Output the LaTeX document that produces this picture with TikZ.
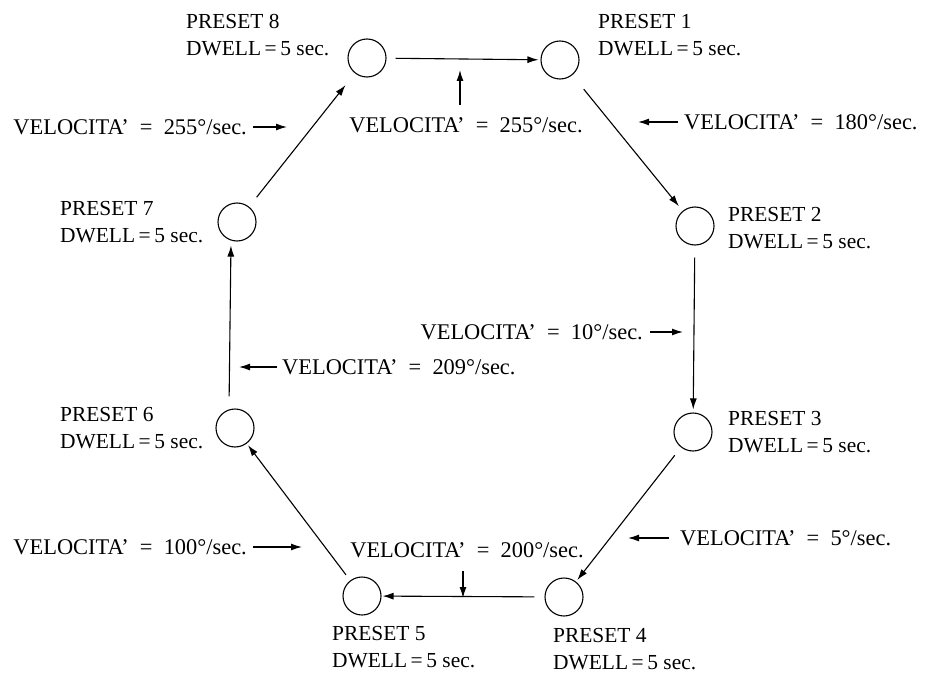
\documentclass[tikz,border=0pt]{standalone}
\usepackage{fontspec}
\setmainfont{Liberation Serif}
\usetikzlibrary{arrows.meta}
\tikzset{
  circ/.style={circle,draw,line width=1.1bp,minimum size=38bp,inner sep=0pt},
  flow/.style={-{Latex[length=11bp,width=7bp]},line width=1.1bp},
  ptr/.style={-{Latex[length=11bp,width=7bp]},line width=1.3bp},
  plbl/.style={font=\fontsize{21.5}{27}\selectfont,align=left,inner sep=0pt},
  vlbl/.style={font=\fontsize{22.5}{27}\selectfont,inner xsep=6bp,inner ysep=0bp},
}
\newcommand\dwl{DWELL\,=\,5 sec.}
\newcommand\vel[1]{VELOCITA’\enspace=\enspace#1°/sec.}
\begin{document}
\begin{tikzpicture}[x=1bp,y=-1bp]
\useasboundingbox (0,0) rectangle (927,675);
% preset circles
\node[circ] (P8) at (367,58) {};
\node[circ] (P1) at (560,60) {};
\node[circ] (P2) at (695,226) {};
\node[circ] (P3) at (693,432) {};
\node[circ] (P4) at (564,597) {};
\node[circ] (P5) at (362,596) {};
\node[circ] (P6) at (235,428) {};
\node[circ] (P7) at (237,222) {};
% preset labels
\node[plbl,anchor=west] (L8) at (186,35) {PRESET 8\\\dwl};
\node[plbl,anchor=west] (L1) at (598,35) {PRESET 1\\\dwl};
\node[plbl,anchor=west] (L2) at (728,228) {PRESET 2\\\dwl};
\node[plbl,anchor=west] (L3) at (728,432) {PRESET 3\\\dwl};
\node[plbl,anchor=west] (L4) at (553,649) {PRESET 4\\\dwl};
\node[plbl,anchor=west] (L5) at (332,647) {PRESET 5\\\dwl};
\node[plbl,anchor=west] (L6) at (60,428) {PRESET 6\\\dwl};
\node[plbl,anchor=west] (L7) at (60,222) {PRESET 7\\\dwl};
% main transitions
\draw[flow,shorten <=9bp,shorten >=2bp] (P8) -- (P1);
\draw[flow,shorten <=18bp,shorten >=6bp] (P1) -- (P2);
\draw[flow,shorten <=12bp,shorten >=3bp] (P2) -- (P3);
\draw[flow,shorten <=10bp,shorten >=2bp] (P3) -- (P4);
\draw[flow,shorten <=10bp,shorten >=1bp] (P4) -- (P5);
\draw[flow,shorten <=7bp,shorten >=2bp] (P5) -- (P6);
\draw[flow,shorten <=12bp,shorten >=4bp] ([xshift=-6bp]P6.north) -- ([xshift=-6bp]P7.south);
\draw[flow,shorten <=12bp,shorten >=15bp] (P7) -- (P8);
% velocity labels
\node[vlbl,anchor=center,inner ysep=12bp] (V1) at (466,125) {\vel{255}};
\coordinate (T1) at (460,70);
\draw[ptr] (V1.north -| T1) -- (T1);
\node[vlbl,anchor=east] (V2) at (253,127) {\vel{255}};
\coordinate (T2) at (287,127);
\draw[ptr] (V2.east) -- (T2);
\node[vlbl,anchor=west] (V3) at (678,122) {\vel{180}};
\coordinate (T3) at (638,122);
\draw[ptr] (V3.west) -- (T3);
\node[vlbl,anchor=east,inner xsep=7bp] (V4) at (650,332) {\vel{10}};
\coordinate (T4) at (683,332);
\draw[ptr] (V4.east) -- (T4);
\node[vlbl,anchor=west,inner xsep=11bp] (V5) at (669,538) {\vel{5}};
\coordinate (T5) at (628,538);
\draw[ptr] (V5.west) -- (T5);
\node[vlbl,anchor=center,inner ysep=13bp] (V6) at (467,550) {\vel{200}};
\coordinate (T6) at (463,598);
\draw[ptr] (V6.south -| T6) -- (T6);
\node[vlbl,anchor=east] (V7) at (253,547) {\vel{100}};
\coordinate (T7) at (302,547);
\draw[ptr] (V7.east) -- (T7);
\node[vlbl,anchor=west,inner xsep=5bp] (V8) at (277,367) {\vel{209}};
\coordinate (T8) at (239,367);
\draw[ptr] (V8.west) -- (T8);
\end{tikzpicture}
\end{document}
